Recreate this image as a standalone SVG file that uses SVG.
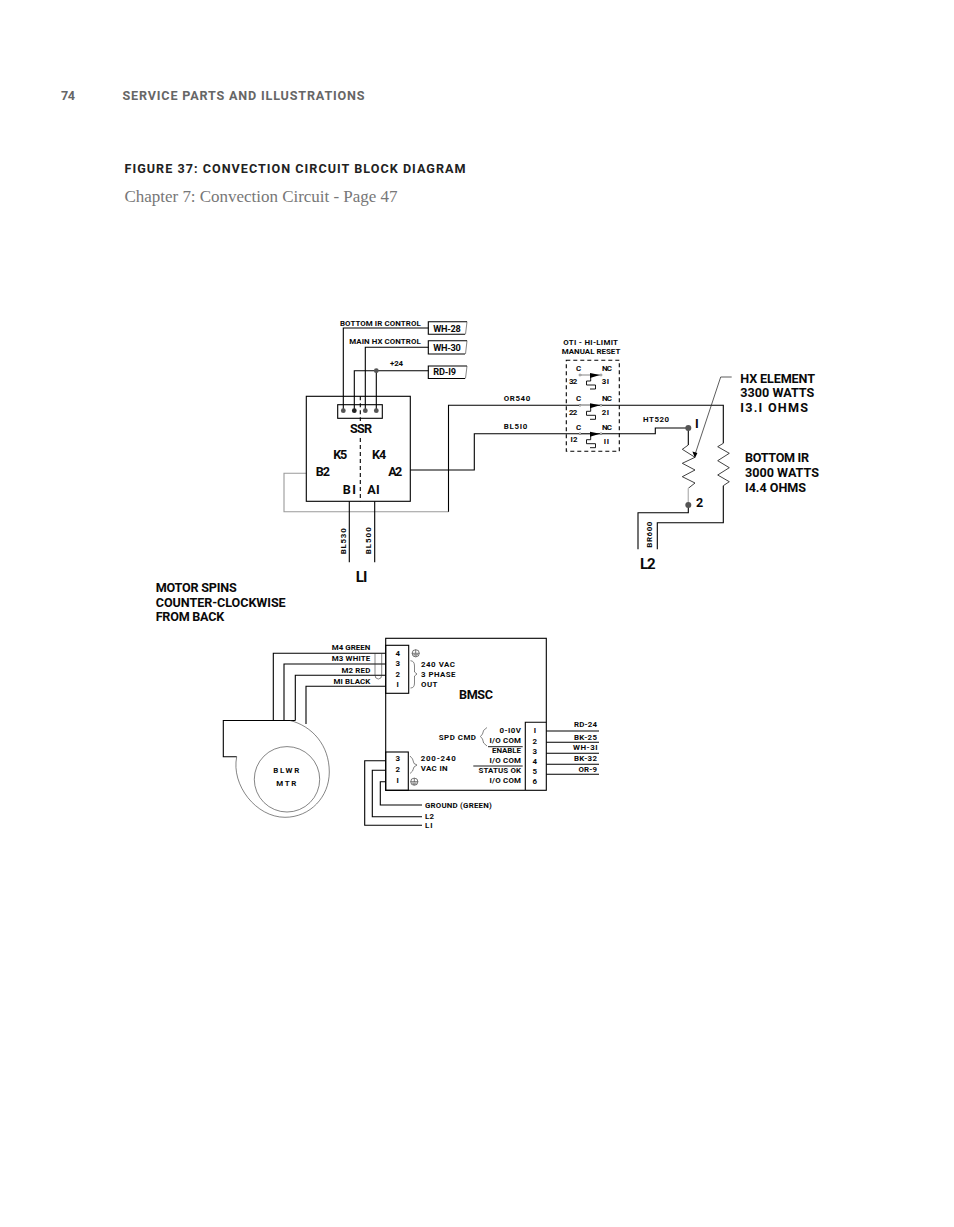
<svg xmlns="http://www.w3.org/2000/svg" width="954" height="1227" viewBox="0 0 954 1227">
<style>
text{font-family:Roboto,"Liberation Sans",Arial,sans-serif;font-weight:700;fill:#0a0a0a}
.s{font-size:7.9px}
.m{font-size:9.2px}
.l{font-size:12.6px}
.x{font-size:15px}
.h{font-size:12.6px}
.w{fill:none;stroke:#000;stroke-width:1.1}
.z{fill:none;stroke:#111;stroke-width:.8}
.g{fill:none;stroke:#9a9a9a;stroke-width:1.1}
.t{fill:none;stroke:#333;stroke-width:.6}
.b{fill:none;stroke:#000;stroke-width:1.1}
.d{fill:#555}
.dash{fill:none;stroke:#000;stroke-width:1.1;stroke-dasharray:4 3}
</style>
<defs>
<g id="sw"><circle cx="580" cy="375" r="1" fill="#fff" stroke="#333" stroke-width=".5"/><circle cx="601" cy="375" r="1" fill="#fff" stroke="#333" stroke-width=".5"/><path d="M581 375H600" class="t"/><path d="M590 373L600 375L590 378Z" fill="#000"/><path d="M590.7 377V381H586.5V385H595.5V389H590" fill="none" stroke="#000" stroke-width=".9"/></g>
<g id="gnd"><circle r="3.6" fill="none" stroke="#222" stroke-width=".6"/><path d="M0-3.6V0M-3.6 0H3.6M-2.4 1.4H2.4M-1.2 2.6H1.2" fill="none" stroke="#222" stroke-width=".6"/></g>
</defs>
<rect width="954" height="1227" fill="#fff"/>
<g id="header">
<text x="61" y="100" class="h" style="fill:#666" textLength="14">74</text>
<text x="122.5" y="100" class="h" style="fill:#666" textLength="242">SERVICE PARTS AND ILLUSTRATIONS</text>
<text x="124.5" y="173" class="h" style="fill:#222" textLength="341">FIGURE 37: CONVECTION CIRCUIT BLOCK DIAGRAM</text>
<text x="124.5" y="202.3" style="font-family:'Liberation Serif',serif;font-weight:400;font-size:17px;fill:#777" textLength="273">Chapter 7: Convection Circuit - Page 47</text>
</g>
<g id="connectors">
<path class="w" d="M343.3 410.7V328H428.5M365.3 410.7V347.3H428.5M354.3 410.7V370.7H428.5M376.3 370.7V410.7"/>
<path class="g" d="M306.3 473.3H284V511.7H448.5"/>
<path class="w" d="M448.5 511.7V405.3H723.3V443.3"/>
<path class="z" d="M723.3 443.3L717.7 446.7L729.3 453.3L717.7 460.7L729.3 467.7L717.7 475L729.3 481.7L723.3 485.7"/>
<path class="w" d="M723.3 485.7V522.7H657.3V549.3"/>
<path class="w" d="M410.3 470H474.3V433.7H655.3V428H688.3V445"/>
<path class="z" d="M688.3 445L682.3 449.3L695 457.3L682.3 463.3L695 470L682.3 476.7L695 483L688.3 488.3"/>
<path class="g" d="M688.3 488.3V505" style="stroke:#bbb;stroke-width:1.4"/>
<path class="w" d="M688.3 505V512.7H638V549.3"/>
<path class="w" d="M349.3 501.3V562.3M374.7 501.3V562.3"/>
<path class="t" d="M731.7 377H720.7L695.5 453" style="stroke-width:.8"/>
<path d="M695 458L692.4 451.6L697.4 453Z" fill="#000"/>
<path class="w" d="M385.7 653.3H273.3V720M385.7 664H284V720M385.7 675.3H295.3V720.5M385.7 686.3H306V724"/>
<path class="t" d="M375 653V675Q375 679 378.4 679Q381.7 679 381.7 675V653"/>
<path class="w" d="M385.7 760.7H364.7V825.3H422M385.7 770.3H372.3V816.7H422M385.7 781.7H380.3V805H422"/>
<path class="w" d="M546.3 731H599M546.3 742.3H599M546.3 753.3H599M546.3 764.3H599M546.3 774.3H599"/>
</g>
<g id="ssr">
<rect class="b" x="306.3" y="396.3" width="104" height="105"/>
<rect class="b" x="337.7" y="404.7" width="44.6" height="13.6"/>
<path class="dash" d="M360.3 396.3V421M360.3 438V501.3"/>
<circle class="d" cx="343.3" cy="410.7" r="2.4"/><circle cx="354.3" cy="410.7" r="2.4" fill="#222"/><circle class="d" cx="365.3" cy="410.7" r="2.4"/><circle class="d" cx="376.3" cy="410.7" r="2.4"/>
<circle class="d" cx="376.3" cy="370.7" r="2.4"/>
<text x="350" y="433.3" class="l" textLength="22">SSR</text>
<text x="333.3" y="458.7" class="l" textLength="14">K5</text>
<text x="372" y="458.7" class="l" textLength="14.3">K4</text>
<text x="315.7" y="476" class="l" textLength="14.3">B2</text>
<text x="388.3" y="476" class="l" textLength="14">A2</text>
<text x="342.7" y="494.3" class="l" textLength="13.3">BI</text>
<text x="367.3" y="494.3" class="l" textLength="12.4">AI</text>
<text x="340" y="325.7" class="s" textLength="80.7">BOTTOM IR CONTROL</text>
<text x="349.3" y="344" class="s" textLength="71.4">MAIN HX CONTROL</text>
<text x="390" y="366" class="s" textLength="13">+24</text>
<text transform="translate(346.3 554.3) rotate(-90)" class="s" textLength="26">BL530</text>
<text transform="translate(371.3 554.3) rotate(-90)" class="s" textLength="27">BL500</text>
<text x="355.7" y="581.7" class="x" textLength="11.6">LI</text>
</g>
<g id="wh28">
<path class="w" d="M465 334.3H428.3V321.7H467"/><path class="t" d="M467 321.7L465.5 334.3"/>
<text x="433.3" y="332.3" class="m" textLength="27.4">WH-28</text>
</g>
<g id="wh30">
<path class="w" d="M465 354H428.3V340.7H467"/><path class="t" d="M467 340.7L465.5 354"/>
<text x="433.3" y="350.7" class="m" textLength="27.4">WH-30</text>
</g>
<g id="rd19">
<path class="w" d="M465 378.5H428.3V366H467"/><path class="t" d="M467 366L465.5 378.5"/>
<text x="433.3" y="375.3" class="m" textLength="22.7">RD-I9</text>
</g>
<g id="oti">
<path class="dash" d="M566.3 360.3H619.3V451.3H566.3Z"/>
<text x="563.3" y="345.3" class="s" textLength="54.7">OTI - HI-LIMIT</text>
<text x="561.7" y="354.3" class="s" textLength="58.6">MANUAL RESET</text>
<use href="#sw"/><use href="#sw" y="30.3"/><use href="#sw" y="58.7"/>
<path d="M581 405.3H590" stroke="#bbb" stroke-width="1.2"/>
<text x="576" y="370.7" class="s" textLength="5.4">C</text><text x="602" y="370.7" class="s" textLength="10">NC</text>
<text x="576" y="401" class="s" textLength="5.4">C</text><text x="602" y="401" class="s" textLength="10">NC</text>
<text x="576" y="430" class="s" textLength="5.4">C</text><text x="602" y="430" class="s" textLength="10">NC</text>
<text x="569" y="384.3" class="s" textLength="8.3">32</text><text x="601.7" y="384.3" class="s" textLength="7.3">3I</text>
<text x="569" y="414.7" class="s" textLength="8.3">22</text><text x="601.7" y="414.7" class="s" textLength="7.3">2I</text>
<text x="570.5" y="442" class="s" textLength="7">I2</text><text x="603.7" y="444" class="s" textLength="5.3">II</text>
</g>
<g id="wire-labels">
<text x="503.7" y="400.7" class="s" textLength="26.6">OR540</text>
<text x="503.7" y="429.3" class="s" textLength="23.6">BL5I0</text>
<text x="643" y="422" class="s" textLength="26">HT520</text>
<text transform="translate(652 547.7) rotate(-90)" class="s" textLength="26">BR600</text>
</g>
<g id="hx-element">
<circle class="d" cx="688.3" cy="428" r="3"/><circle class="d" cx="688.3" cy="505" r="3"/>
<text x="695" y="427.7" class="l">I</text>
<text x="696" y="507" class="l" textLength="6.4">2</text>
<text x="740.3" y="382.7" class="l" textLength="74.7">HX ELEMENT</text>
<text x="740.3" y="397.2" class="l" textLength="74">3300 WATTS</text>
<text x="740.3" y="411.7" class="l" textLength="67.7">I3.I OHMS</text>
</g>
<g id="bottom-ir">
<text x="745" y="462.3" class="l" textLength="64">BOTTOM IR</text>
<text x="745" y="477" class="l" textLength="74">3000 WATTS</text>
<text x="745" y="492" class="l" textLength="61">I4.4 OHMS</text>
</g>
<text x="640" y="569" class="x" textLength="15.7">L2</text>
<g id="note">
<text x="155.7" y="592.3" class="l" textLength="81">MOTOR SPINS</text>
<text x="155.7" y="607" class="l" textLength="130">COUNTER-CLOCKWISE</text>
<text x="155.7" y="621.3" class="l" textLength="68.5">FROM BACK</text>
</g>
<g id="bmsc">
<rect class="b" x="385.7" y="638.3" width="160.6" height="152"/>
<rect class="b" x="385.7" y="645.3" width="23" height="48"/>
<rect class="b" x="385.7" y="752" width="22.6" height="38.3"/>
<path class="w" d="M525.3 790V722.3H546.3"/>
<text x="459" y="698.7" class="l" textLength="34">BMSC</text>
<use href="#gnd" x="415.7" y="653.3"/><use href="#gnd" x="414.3" y="781.7"/>
<path class="t" d="M410.5 660.7Q414.5 661 414.5 666V672L417 674L414.5 676V683Q414.5 688 410.5 688"/>
<path class="t" d="M410 756Q413 758 414 763.5L417 765L414 767Q413 772 410 773.5"/>
<path class="t" d="M487 727.5Q482.5 730 482.5 734L480.5 736.5L482.5 739Q482.5 743.5 487 746"/>
<text x="395.5" y="655.7" class="s" textLength="5">4</text><text x="395.5" y="666.3" class="s" textLength="4.6">3</text><text x="395.5" y="676.7" class="s" textLength="4.6">2</text><text x="396.5" y="686.7" class="s">I</text>
<text x="395.5" y="761.3" class="s" textLength="4.6">3</text><text x="395.5" y="772.3" class="s" textLength="4.6">2</text><text x="396.5" y="782.7" class="s">I</text>
<text x="421" y="666.7" class="s" textLength="34">240 VAC</text>
<text x="421" y="676.7" class="s" textLength="34.5">3 PHASE</text>
<text x="421" y="686.7" class="s" textLength="16.5">OUT</text>
<text x="420.7" y="760.7" class="s" textLength="35">200-240</text>
<text x="420.7" y="770.7" class="s" textLength="27">VAC IN</text>
<text x="438.7" y="740" class="s" textLength="37.3">SPD CMD</text>
<text x="499.5" y="733" class="s" textLength="21.5">0-I0V</text>
<text x="489.5" y="743" class="s" textLength="31.5">I/O COM</text>
<text x="492" y="753" class="s" textLength="29">ENABLE</text>
<text x="489.5" y="763" class="s" textLength="31.5">I/O COM</text>
<text x="478.5" y="773.4" class="s" textLength="42.5">STATUS OK</text>
<text x="489.5" y="783" class="s" textLength="31.5">I/O COM</text>
<path class="w" d="M488 746.7H522.7M473.3 766H522.7" style="stroke-width:.9"/>
<text x="533.7" y="733.3" class="s">I</text>
<text x="532.5" y="743.7" class="s" textLength="4.6">2</text>
<text x="532.5" y="753.7" class="s" textLength="4.6">3</text>
<text x="532.5" y="763.7" class="s" textLength="4.6">4</text>
<text x="532.5" y="773.7" class="s" textLength="4.6">5</text>
<text x="532.5" y="783.7" class="s" textLength="4.6">6</text>
<text x="574" y="727.3" class="s" textLength="23">RD-24</text>
<text x="574" y="739.7" class="s" textLength="23">BK-25</text>
<text x="573" y="750.3" class="s" textLength="24.5">WH-3I</text>
<text x="574" y="761" class="s" textLength="23">BK-32</text>
<text x="578.5" y="771.7" class="s" textLength="18.5">OR-9</text>
<text x="331.7" y="649.7" class="s" textLength="38.6">M4 GREEN</text>
<text x="331.7" y="661" class="s" textLength="38.6">M3 WHITE</text>
<text x="341.5" y="672.7" class="s" textLength="28.8">M2 RED</text>
<text x="333.5" y="683.7" class="s" textLength="36.8">MI BLACK</text>
<text x="425" y="807.7" class="s" textLength="66.7">GROUND (GREEN)</text>
<text x="425" y="819.3" class="s" textLength="9">L2</text>
<text x="425" y="828" class="s" textLength="7.5">LI</text>
</g>
<g id="blower">
<path class="w" d="M295.3 720.5H223.3V756.7H236.7"/>
<path class="t" d="M236.7 756.7C231 785 256 817.3 285 817.3C310 817.3 329.3 797 329.3 772C329.3 745 312 726 290 720.5"/>
<circle class="t" cx="287" cy="779.3" r="32.7"/>
<text x="273.3" y="772.7" class="s" textLength="26">BLWR</text>
<text x="276.3" y="785.7" class="s" textLength="20">MTR</text>
</g>
</svg>
